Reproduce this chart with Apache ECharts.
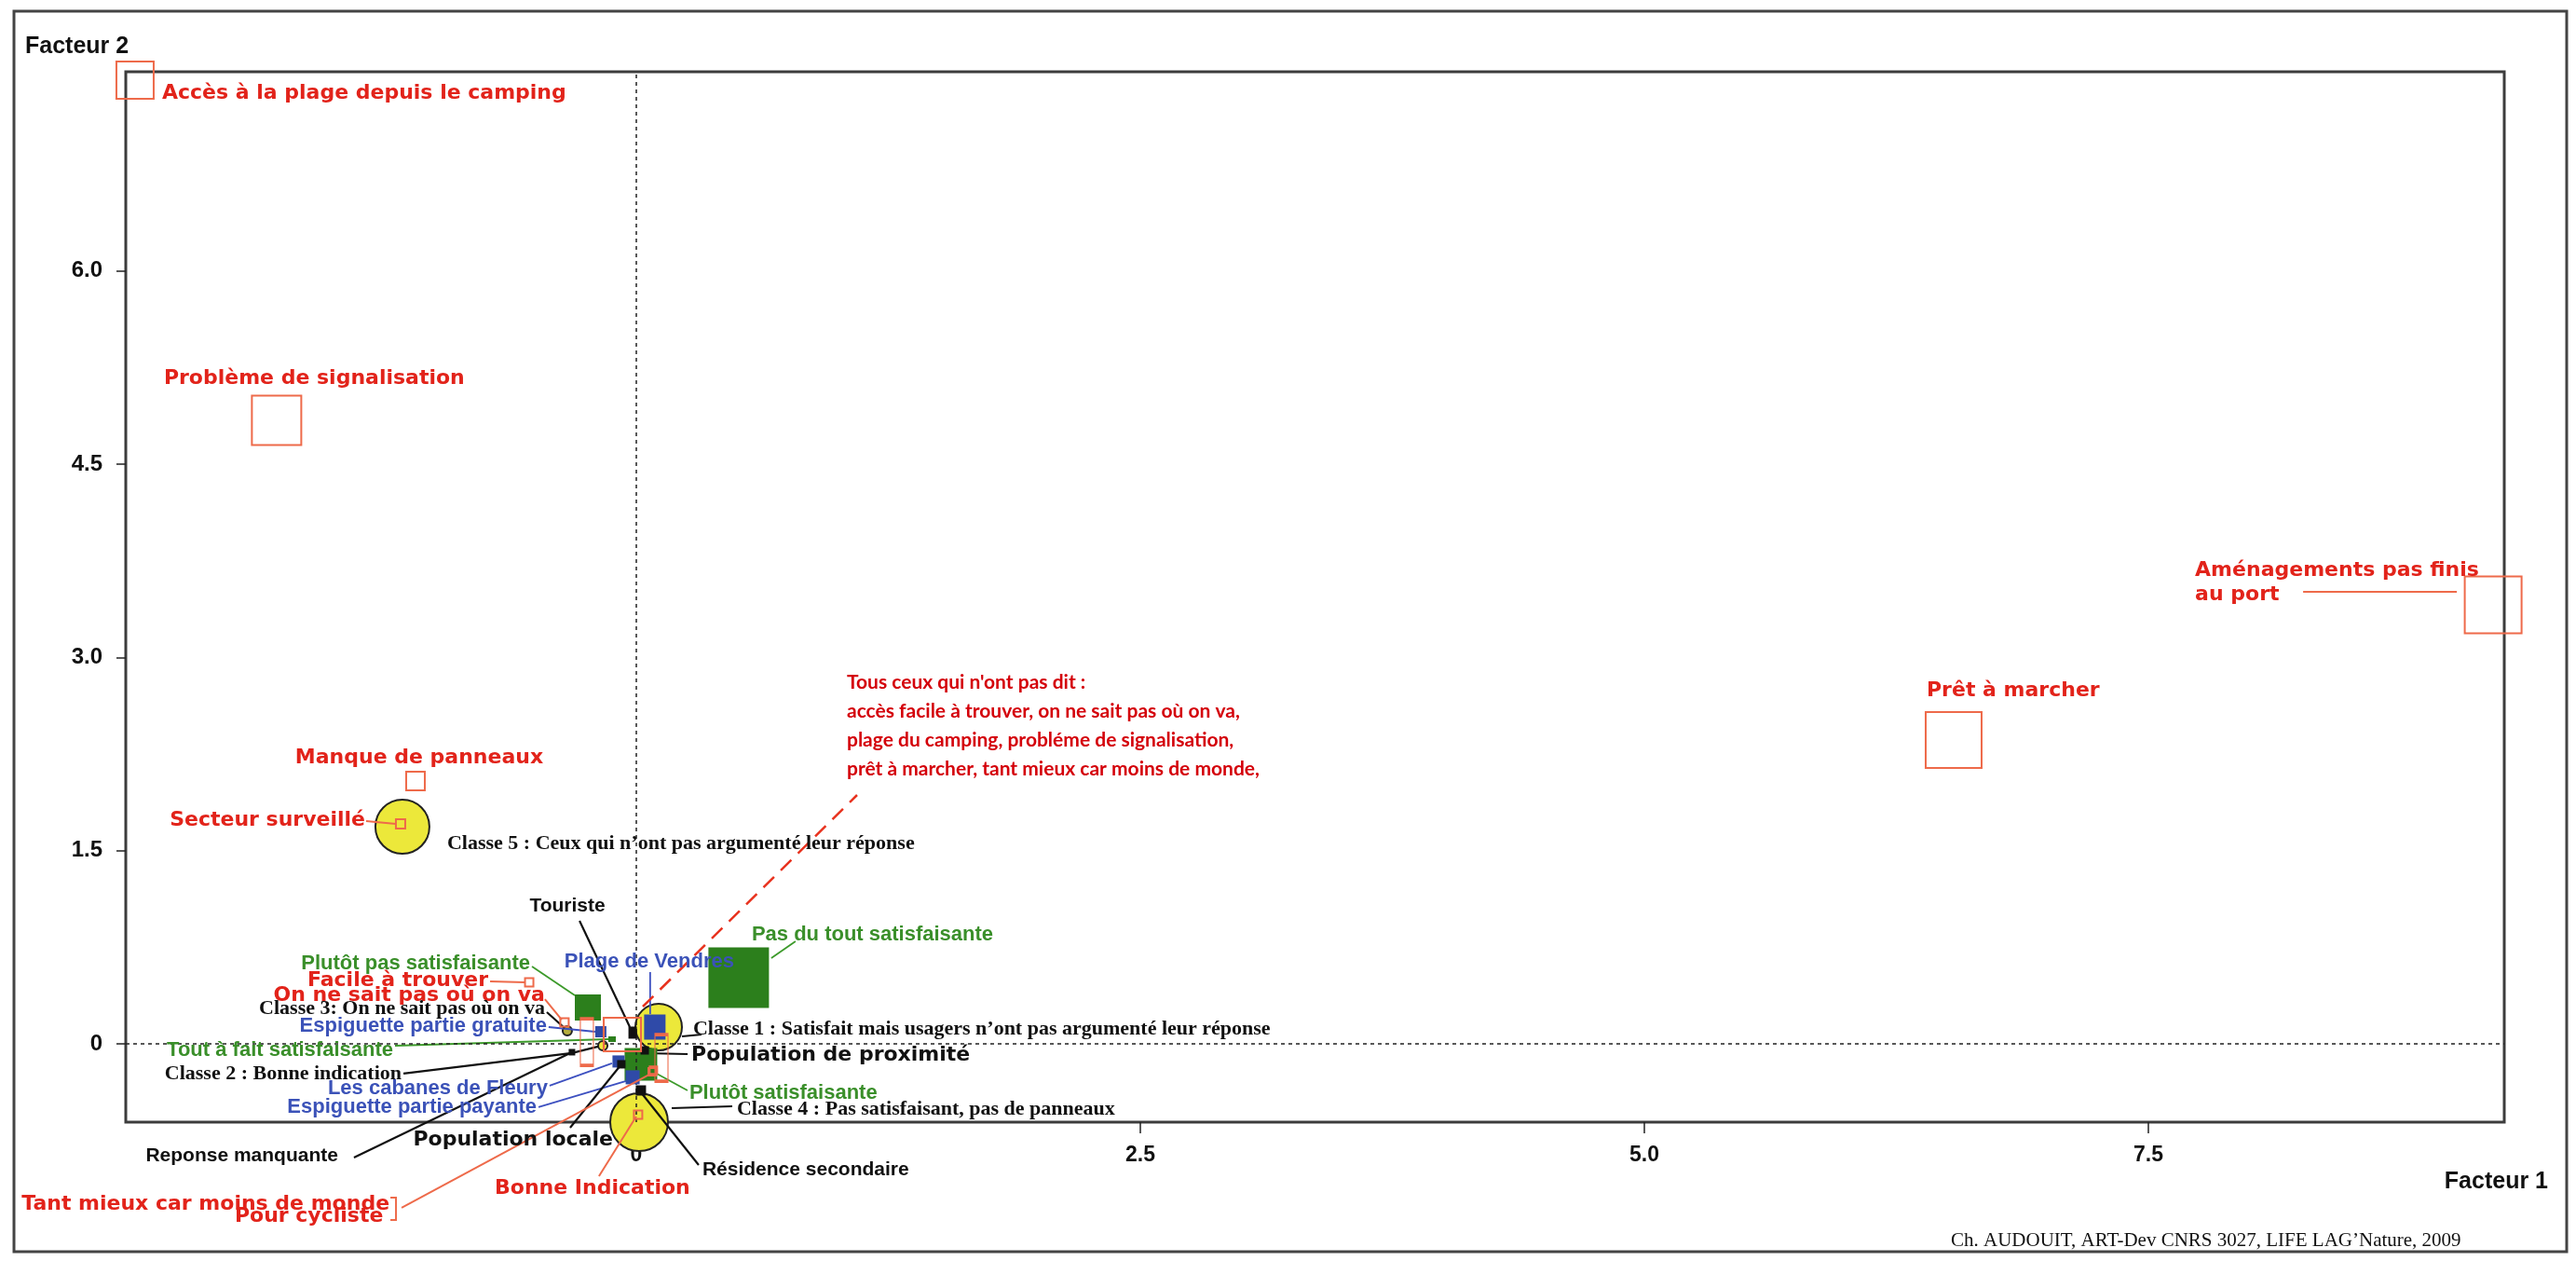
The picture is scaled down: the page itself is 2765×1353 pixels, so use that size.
<!DOCTYPE html>
<html><head><meta charset="utf-8">
<script src="https://cdn.jsdelivr.net/npm/echarts@6/dist/echarts.min.js"></script>
<style>html,body{margin:0;padding:0;background:#fff}#c{width:2765px;height:1353px}</style>
</head><body><div id="c"></div>
<script>
// ================= DATA (factor coordinates) =================
const xTicks = [0, 2.5, 5.0, 7.5];
const yTicks = [0, 1.5, 3.0, 4.5, 6.0];

// Red modalities (raisons)
const redNames = ['Accès à la plage depuis le camping', 'Problème de signalisation', 'Manque de panneaux',
  'Secteur surveillé', 'Aménagements pas finis\nau port', 'Prêt à marcher', 'Facile à trouver',
  'On ne sait pas où on va', 'Bonne Indication', 'Tant mieux car moins de monde', 'Pour cycliste', '', '', ''];
const redF1 = [-2.486, -1.784, -1.095, -1.169, 9.210, 6.534, -0.531, -0.356, 0.009, 0.079, 0.085, -0.245, 0.125, -0.069];
const redF2 = [7.482, 4.841, 2.041, 1.708, 3.408, 2.359, 0.478, 0.166, -0.550, -0.217, -0.205, 0.014, -0.109, 0.072];

// Green modalities (satisfaction)
const satNames = ['Pas du tout satisfaisante', 'Plutôt pas satisfaisante', 'Plutôt satisfaisante', 'Tout à fait satisfaisante'];
const satF1 = [0.508, -0.240, 0.023, -0.120];
const satF2 = [0.514, 0.282, -0.159, 0.036];

// Blue modalities (lieu)
const lieuNames = ['Plage de Vendres', 'Espiguette partie gratuite', 'Les cabanes de Fleury', 'Espiguette partie payante'];
const lieuF1 = [0.092, -0.176, -0.088, -0.018];
const lieuF2 = [0.130, 0.094, -0.137, -0.260];

// Black modalities (population)
const popNames = ['Touriste', 'Population de proximité', 'Population locale', 'Résidence secondaire', 'Reponse manquante'];
const popF1 = [-0.018, 0.042, -0.074, 0.023, -0.319];
const popF2 = [0.087, -0.051, -0.159, -0.362, -0.065];

// Classes (yellow circles)
const classNames = ['Classe 1 : Satisfait mais usagers n’ont pas argumenté leur réponse', 'Classe 2 : Bonne indication',
  'Classe 3: On ne sait pas où on va', 'Classe 4 : Pas satisfaisant, pas de panneaux',
  'Classe 5 : Ceux qui n’ont pas argumenté leur réponse'];
const classF1 = [0.111, -0.166, -0.342, 0.014, -1.160];
const classF2 = [0.130, -0.014, 0.101, -0.608, 1.686];

const noteText = 'Tous ceux qui n\'ont pas dit :\naccès facile à trouver, on ne sait pas où on va,\nplage du camping, probléme de signalisation,\nprêt à marcher, tant mieux car moins de monde,';
const axisNameX = 'Facteur 1';
const axisNameY = 'Facteur 2';
const credit = 'Ch. AUDOUIT, ART-Dev CNRS 3027, LIFE LAG’Nature, 2009';

// ================= LAYOUT / STYLE (pixel offsets relative to each point) =================
const F_WIDE = 'bold 22px "DejaVu Sans"';
const F_COND = 'bold 22px "Liberation Sans"';
const F_SERIF = 'bold 22px "Liberation Serif"';
const RED_TXT = '#e2231a', RED_SYM = '#ee6a4a';
const GREEN_TXT = '#3a8f2a', GREEN_SYM = '#2c7f1c';
const BLUE_TXT = '#3b52b8', BLUE_SYM = '#2f4aa8';
const BLACK = '#111111';

const redLayout = [
  {size: 40, t: [29, 14]},
  {size: 53, t: [-121, -45]},
  {size: 20, t: [4, -25], align: 'center'},
  {size: 10, t: [-38, -4], align: 'right', lines: [[[-37, -3], [-5, 0]]]},
  {size: 61, t: [-320, -24], lh: 26, lines: [[[-39, -14], [-204, -14]]]},
  {size: 60, t: [-29, -53]},
  {size: 9, t: [-44, -2], align: 'right', lines: [[[-42, -1], [-5, 0]]]},
  {size: 9, t: [-21, -29], align: 'right', lines: [[[-21, -25], [-3, -3]]]},
  {size: 9, t: [-49, 79], align: 'center', lines: [[[-42, 66], [-2, 2]]]},
  {size: 8, t: [-282, 142], align: 'right', lines: [[[-269, 146], [-3, 3]], [[-281, 135], [-275, 135], [-275, 159], [-281, 159]]]},
  {size: 8, t: [-290, 157], align: 'right'},
  {size: [14, 50]},
  {size: [14, 50]},
  {size: [40, 36]}
];
const satLayout = [
  {size: 65, t: [14, -46], lines: [[[35, -21], [61, -39]]]},
  {size: 28, t: [-62, -47], align: 'right', lines: [[[-60, -44], [-14, -13]]]},
  {size: 35, t: [52, 31], lines: [[[17, 10], [50, 28]]]},
  {size: [8, 6], t: [-235, 12], align: 'right', lines: [[[-233, 7], [-4, 0]]]}
];
const lieuLayout = [
  {size: [23, 27], t: [-6, -70], align: 'center', lines: [[[-5, -59], [-5, -14]]]},
  {size: 12, t: [-58, -6], align: 'right', lines: [[[-56, -5], [-6, 0]]]},
  {size: 13, t: [-76, 29], align: 'right', lines: [[[-74, 26], [-7, 2]]]},
  {size: 15, t: [-103, 32], align: 'right', lines: [[[-101, 32], [-7, 4]]]}
];
const popLayout = [
  {size: [9, 13], t: [-70, -136], align: 'center', font: 'bold 21px "Liberation Sans"', lines: [[[-57, -120], [-3, -6]]]},
  {size: 9, t: [50, 5], font: F_WIDE, lines: [[[0, 3], [46, 4]]]},
  {size: 9, t: [-9, 81], align: 'right', font: F_WIDE, lines: [[[-55, 68], [0, 0]]]},
  {size: 11, t: [66, 85], font: 'bold 21px "Liberation Sans"', lines: [[[0, 2], [62, 80]]]},
  {size: 7, t: [-251, 111], align: 'right', font: 'bold 21px "Liberation Sans"', lines: [[[-234, 113], [0, 0]]]}
];
const classLayout = [
  {size: 50, color: '#ece83a', t: [37, 2], lines: [[[25, 10], [46, 8]]]},
  {size: 10, color: '#ece83a', t: [-216, 30], align: 'right', lines: [[[-214, 30], [-33, 8], [-5, 1]]]},
  {size: 10, color: '#b5ad3c', t: [-24, -24], align: 'right', lines: [[[-22, -20], [-3, -3]]]},
  {size: 62, color: '#ece83a', t: [105, -14], lines: [[[35, -15], [100, -17]]]},
  {size: 58, color: '#ece83a', t: [48, 18]}
];
const noteLayout = [{t: [202, -323], lh: 31, lines: [[[-17, -22], [213, -249]]], dash: [16, 10]}];

// ================= BUILD =================
function symbolSeries(xs, ys, L, itemStyle, symbol, z) {
  return {
    type: 'scatter', symbol, clip: false, silent: true, z,
    data: xs.map((x, i) => ({value: [x, ys[i]], symbolSize: L[i].size,
      itemStyle: L[i].color ? {color: L[i].color, opacity: 1} : undefined})),
    itemStyle: Object.assign({opacity: 1}, itemStyle)
  };
}
function layer(xs, ys, names, L, opts, part) {
  return {
    type: 'custom', coordinateSystem: 'cartesian2d', clip: false, silent: true,
    z: part === 'text' ? 30 : opts.lineZ,
    data: xs.map((x, i) => [x, ys[i], i]),
    encode: {x: 0, y: 1},
    renderItem(params, api) {
      const i = api.value(2);
      const p = api.coord([api.value(0), api.value(1)]);
      const l = L[i] || {};
      const children = [];
      if (part === 'lines') {
        (l.lines || []).forEach(pl => children.push({
          type: 'polyline',
          shape: {points: pl.map(o => [p[0] + o[0], p[1] + o[1]])},
          style: {stroke: opts.lineColor, lineWidth: opts.lineWidth, fill: null, lineDash: l.dash || null}
        }));
      } else if (names[i] && l.t) {
        children.push({
          type: 'text', x: p[0] + l.t[0], y: p[1] + l.t[1],
          style: {text: names[i], font: l.font || opts.font, fill: opts.color,
            align: l.align || 'left', verticalAlign: 'middle', lineHeight: l.lh}
        });
      }
      return {type: 'group', children};
    }
  };
}

const fmt = v => (v === 0 ? '0' : v.toFixed(1));
const chart = echarts.init(document.getElementById('c'), null, {renderer: 'canvas'});
const groups = [
  {xs: redF1, ys: redF2, names: redNames, L: redLayout, o: {font: F_WIDE, color: RED_TXT, lineColor: RED_SYM, lineWidth: 2, lineZ: 7}},
  {xs: satF1, ys: satF2, names: satNames, L: satLayout, o: {font: F_COND, color: GREEN_TXT, lineColor: '#3c9a2a', lineWidth: 1.8, lineZ: 3}},
  {xs: lieuF1, ys: lieuF2, names: lieuNames, L: lieuLayout, o: {font: F_COND, color: BLUE_TXT, lineColor: '#3d50c0', lineWidth: 1.8, lineZ: 3}},
  {xs: popF1, ys: popF2, names: popNames, L: popLayout, o: {font: F_COND, color: BLACK, lineColor: BLACK, lineWidth: 2.2, lineZ: 3}},
  {xs: classF1, ys: classF2, names: classNames, L: classLayout, o: {font: F_SERIF, color: BLACK, lineColor: BLACK, lineWidth: 2.2, lineZ: 3}},
  {xs: [classF1[0]], ys: [classF2[0]], names: [noteText], L: noteLayout, o: {font: 'bold 21px Lato', color: '#d4000a', lineColor: '#e8321e', lineWidth: 2.5, lineZ: 7}}
];

const series = [
  {type: 'scatter', data: [], silent: true, z: 1,
    markLine: {silent: true, symbol: ['none', 'none'], label: {show: false},
      lineStyle: {color: '#222', type: [4, 4], width: 1.5}, data: [{xAxis: 0}, {yAxis: 0}]}},
  symbolSeries(classF1, classF2, classLayout, {borderColor: '#222', borderWidth: 2}, 'circle', 2),
  symbolSeries(satF1, satF2, satLayout, {color: GREEN_SYM}, 'rect', 4),
  symbolSeries(lieuF1, lieuF2, lieuLayout, {color: BLUE_SYM}, 'rect', 5),
  symbolSeries(popF1, popF2, popLayout, {color: BLACK}, 'rect', 6),
  symbolSeries(redF1, redF2, redLayout, {color: 'rgba(0,0,0,0)', borderColor: RED_SYM, borderWidth: 2}, 'rect', 8)
];
groups.forEach(g => {
  series.push(layer(g.xs, g.ys, g.names, g.L, g.o, 'lines'));
  series.push(layer(g.xs, g.ys, g.names, g.L, g.o, 'text'));
});

chart.setOption({
  animation: false,
  backgroundColor: '#ffffff',
  grid: {left: 135, right: 77, top: 77, bottom: 149, show: true, borderColor: '#3c3c3c', borderWidth: 3, backgroundColor: 'rgba(0,0,0,0)'},
  xAxis: {type: 'value', min: -2.532, max: 9.265, splitLine: {show: false}, axisLine: {show: false, onZero: false},
    axisTick: {show: true, customValues: xTicks, length: 12, lineStyle: {color: '#222', width: 1.5}},
    axisLabel: {customValues: xTicks, formatter: fmt, margin: 24, fontFamily: 'Liberation Sans', fontWeight: 'bold', fontSize: 23, color: BLACK}},
  yAxis: {type: 'value', min: -0.608, max: 7.547, splitLine: {show: false}, axisLine: {show: false, onZero: false},
    axisTick: {show: true, customValues: yTicks, length: 10, lineStyle: {color: '#222', width: 1.5}},
    axisLabel: {customValues: yTicks, formatter: fmt, margin: 25, fontFamily: 'Liberation Sans', fontWeight: 'bold', fontSize: 24, color: BLACK}},
  graphic: [
    {type: 'rect', silent: true, z: 0, shape: {x: 15, y: 12, width: 2740, height: 1331}, style: {fill: null, stroke: '#444', lineWidth: 3}},
    {type: 'text', silent: true, x: 27, y: 50, style: {text: axisNameY, font: 'bold 25px "Liberation Sans"', fill: BLACK, verticalAlign: 'middle'}},
    {type: 'text', silent: true, x: 2735, y: 1268, style: {text: axisNameX, font: 'bold 25px "Liberation Sans"', fill: BLACK, align: 'right', verticalAlign: 'middle'}},
    {type: 'text', silent: true, x: 2094, y: 1331, style: {text: credit, font: '21px "Liberation Serif"', fill: BLACK, verticalAlign: 'middle'}}
  ],
  series
});
</script>
</body></html>
